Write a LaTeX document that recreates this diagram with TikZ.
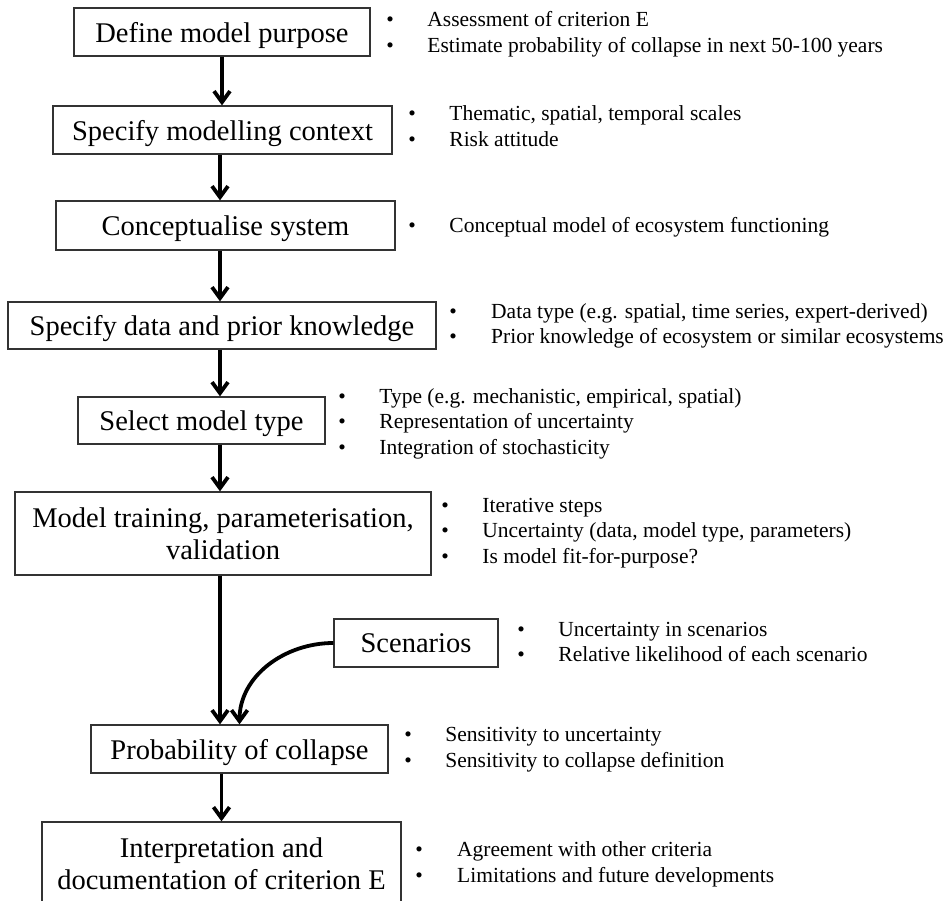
\documentclass[tikz,border=0pt]{standalone}
\usepackage{fontspec}
\setmainfont{Liberation Serif}
\usetikzlibrary{arrows.meta}
\newcommand{\pts}[2][33.5pt]{\begin{tabular}{@{}l@{\hspace{#1}}l@{}}#2\end{tabular}}

\begin{document}
\begin{tikzpicture}[x=1pt,y=-1pt,
    box/.style={draw=black!80,line width=1.3pt,inner sep=2pt,align=center,text depth=0pt,
      font=\fontsize{28.5}{32}\selectfont},
    notes/.style={anchor=west,inner sep=0pt,font=\fontsize{21.5}{25.5}\selectfont},
    flow/.style={-{Straight Barb[length=11pt,width=16pt]},line width=3.8pt}]
  \useasboundingbox (0,0) rectangle (946,901);
  \coordinate (spine) at (220,0);
  % steps
  \node[box,minimum width=296,minimum height=48](purpose)at(222,32){Define model purpose};
  \node[box,minimum width=339,minimum height=48](context)at(222.5,130){Specify modelling context};
  \node[box,minimum width=339,minimum height=49](concept)at(225.5,225.5){Conceptualise system};
  \node[box,minimum width=428,minimum height=47](data)at(222,325.5){Specify data and prior knowledge};
  \node[box,minimum width=247,minimum height=47](mtype)at(201.5,420.5){Select model type};
  \node[box,minimum width=416,minimum height=83](training)at(223,533.5)
    {Model training, parameterisation,\\validation};
  \node[box,minimum width=164,minimum height=48](scen)at(416,643){Scenarios};
  \node[box,minimum width=297,minimum height=48](prob)at(239.5,749){Probability of collapse};
  \node[box,minimum width=359,minimum height=84](interp)at(221.5,864)
    {Interpretation and\\documentation of criterion E};
  % notes
  \node[notes](purposeNotes)at(386.2,34.5){\pts{\textbullet & Assessment of criterion E\\
    \textbullet & Estimate probability of collapse in next 50-100 years}};
  \node[notes](contextNotes)at(408.2,128.5){\pts{\textbullet & Thematic, spatial, temporal scales\\
    \textbullet & Risk attitude}};
  \node[notes](conceptNotes)at(408.2,227){\pts{\textbullet & Conceptual model of ecosystem functioning}};
  \node[notes](dataNotes)at(449.2,326){\pts[34.3pt]{\textbullet & Data type (e.g. spatial, time series, expert-derived)\\
    \textbullet & Prior knowledge of ecosystem or similar ecosystems}};
  \node[notes](mtypeNotes)at(338.2,423.5){\pts{\textbullet & Type (e.g. mechanistic, empirical, spatial)\\
    \textbullet & Representation of uncertainty\\
    \textbullet & Integration of stochasticity}};
  \node[notes](trainingNotes)at(441.2,532.5){\pts{\textbullet & Iterative steps\\
    \textbullet & Uncertainty (data, model type, parameters)\\
    \textbullet & Is model fit-for-purpose?}};
  \node[notes](scenNotes)at(517.2,644){\pts{\textbullet & Uncertainty in scenarios\\
    \textbullet & Relative likelihood of each scenario}};
  \node[notes](probNotes)at(404.2,749.5){\pts{\textbullet & Sensitivity to uncertainty\\
    \textbullet & Sensitivity to collapse definition}};
  \node[notes](interpNotes)at(415.2,864.5){\pts[34.3pt]{\textbullet & Agreement with other criteria\\
    \textbullet & Limitations and future developments}};
  % arrows
  \draw[flow](purpose.south)--(purpose.south|-context.north);
  \draw[flow](context.south-|spine)--(concept.north-|spine);
  \draw[flow](concept.south-|spine)--(data.north-|spine);
  \draw[flow](data.south-|spine)--(mtype.north-|spine);
  \draw[flow](mtype.south-|spine)--(training.north-|spine);
  \draw[flow](training.south-|spine)--(prob.north-|spine);
  \draw[flow](scen.west)to[out=180,in=90](prob.north);
  \draw[flow](prob.south-|interp.north)--(interp.north);
\end{tikzpicture}
\end{document}
